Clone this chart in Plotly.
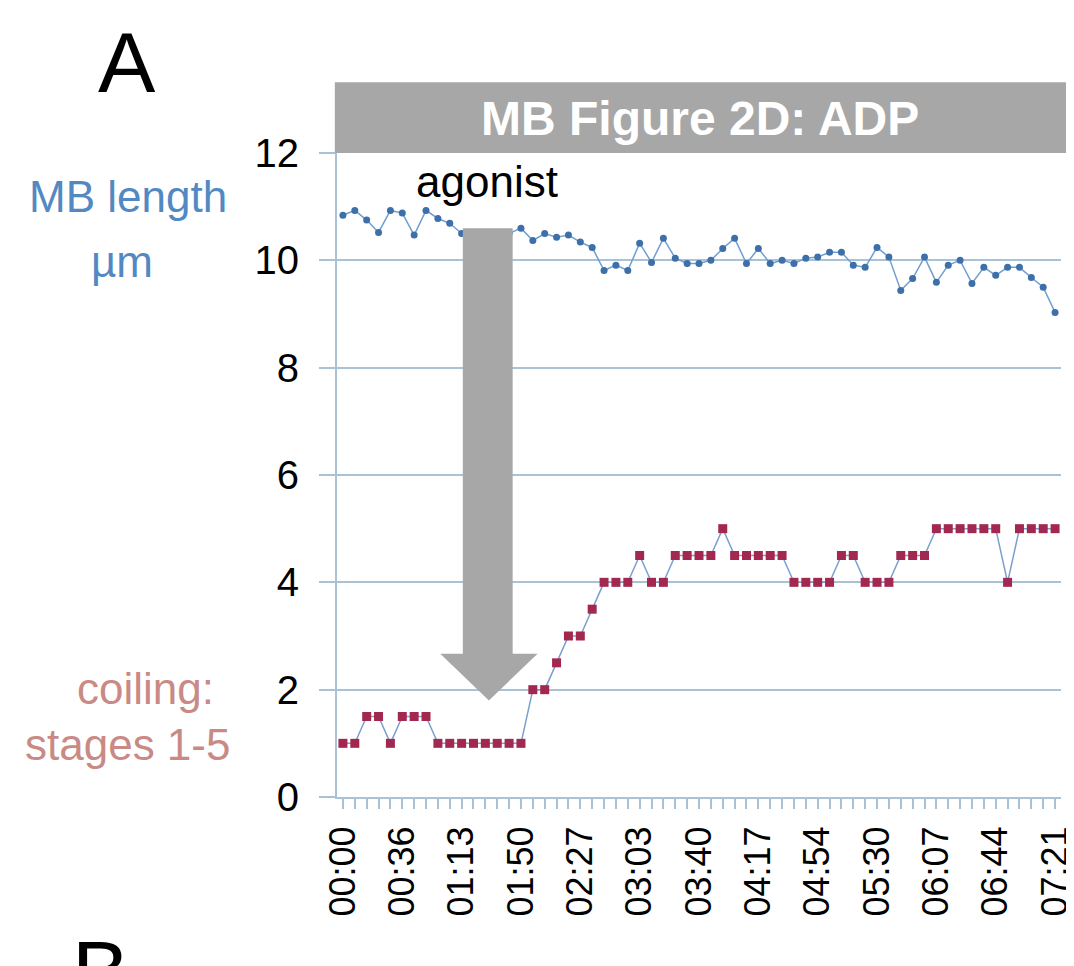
import plotly.graph_objects as go

FAMILY = "Liberation Sans, Arial, sans-serif"

# sample index (one frame every ~7.35 s), labels on every 5th frame
frame = list(range(61))
tick_frames = [0, 5, 10, 15, 20, 25, 30, 35, 40, 45, 50, 55, 60]
tick_labels = ["00:00", "00:36", "01:13", "01:50", "02:27", "03:03", "03:40",
               "04:17", "04:54", "05:30", "06:07", "06:44", "07:21"]

# MB length in um
mb_length = [10.84, 10.93, 10.75, 10.52, 10.93, 10.88, 10.47, 10.93, 10.78, 10.69,
             10.5, 10.5, 10.45, 10.5, 10.5, 10.60, 10.37, 10.50, 10.43, 10.47,
             10.34, 10.24, 9.81, 9.91, 9.81, 10.32, 9.96, 10.41, 10.04, 9.94,
             9.94, 10.0, 10.22, 10.41, 9.94, 10.22, 9.94, 10.0, 9.94, 10.04,
             10.06, 10.15, 10.15, 9.91, 9.87, 10.24, 10.06, 9.44, 9.66, 10.06,
             9.59, 9.91, 10.0, 9.57, 9.87, 9.72, 9.87, 9.87, 9.68, 9.50,
             9.03]

# coiling stage 1-5
coiling = [1, 1, 1.5, 1.5, 1, 1.5, 1.5, 1.5, 1, 1,
           1, 1, 1, 1, 1, 1, 2, 2, 2.5, 3,
           3, 3.5, 4, 4, 4, 4.5, 4, 4, 4.5, 4.5,
           4.5, 4.5, 5, 4.5, 4.5, 4.5, 4.5, 4.5, 4, 4,
           4, 4, 4.5, 4.5, 4, 4, 4, 4.5, 4.5, 4.5,
           5, 5, 5, 5, 5, 5, 4, 5, 5, 5,
           5]

GRID = "#a9c2d6"
GRAY = "#a7a7a7"

fig = go.Figure()

fig.add_trace(go.Scatter(
    x=frame, y=mb_length, mode="lines+markers",
    line=dict(color="#6f9fd2", width=1.5),
    marker=dict(color="#3d6fa8", size=7, symbol="circle"),
    showlegend=False))

fig.add_trace(go.Scatter(
    x=frame, y=coiling, mode="lines+markers",
    line=dict(color="#7a9fcf", width=1.5),
    marker=dict(color="#a3284f", size=9, symbol="square"),
    showlegend=False))

# grey "agonist" arrow, drawn above the traces
fig.add_shape(type="path", xref="x", yref="y", layer="above",
              path="M 10.1 10.6 L 14.3 10.6 L 14.3 2.67 L 16.4 2.67 L 12.3 1.8 "
                   "L 8.2 2.67 L 10.1 2.67 Z",
              fillcolor=GRAY, line=dict(width=0))

# title bar
fig.add_shape(type="rect", xref="paper", yref="paper", layer="above",
              x0=-0.003, x1=1.01, y0=1.0, y1=1.11,
              fillcolor=GRAY, line=dict(width=0))

annotations = [
    dict(text="<b>MB Figure 2D: ADP</b>", x=0.501, y=1.054, font=dict(size=48, color="white")),
    dict(text="A", x=-0.29, y=1.142, font=dict(size=86, color="black")),
    dict(text="B", x=-0.327, y=-0.27, font=dict(size=86, color="black")),
    dict(text="MB length", x=-0.289, y=0.932, font=dict(size=44, color="#5289c2")),
    dict(text="\u00b5m", x=-0.297, y=0.831, font=dict(size=44, color="#5289c2")),
    dict(text="coiling:", x=-0.265, y=0.169, font=dict(size=44, color="#c98a85")),
    dict(text="stages 1-5", x=-0.289, y=0.081, font=dict(size=44, color="#c98a85")),
    dict(text="agonist", x=0.207, y=0.955, font=dict(size=44, color="black")),
]
for a in annotations:
    a.update(xref="paper", yref="paper", showarrow=False, xanchor="center", yanchor="middle")

fig.update_layout(
    width=1066, height=958,
    margin=dict(l=329, r=13, t=145, b=169),
    paper_bgcolor="white", plot_bgcolor="white",
    font=dict(family=FAMILY, color="black"),
    annotations=annotations,
    xaxis=dict(
        range=[-0.5, 60.5], automargin=False,
        tickmode="array", tickvals=tick_frames, ticktext=tick_labels,
        tickangle=-90, tickfont=dict(size=36),
        ticks="outside", ticklen=10, tickcolor=GRID, tickwidth=1.5,
        ticklabelstandoff=3, ticklabeloverflow="allow",
        minor=dict(tick0=0, dtick=1, ticks="outside", ticklen=10, tickcolor=GRID, tickwidth=1.5),
        showline=True, linecolor=GRID, linewidth=2,
        showgrid=False, zeroline=False),
    yaxis=dict(
        range=[0, 12], automargin=False, tickmode="linear", tick0=0, dtick=2,
        tickfont=dict(size=40),
        ticks="outside", ticklen=16, tickcolor=GRID, tickwidth=2,
        ticklabelstandoff=12,
        showline=True, linecolor=GRID, linewidth=2,
        showgrid=True, gridcolor=GRID, gridwidth=2,
        zeroline=False),
)

fig.write_html("out.html")
